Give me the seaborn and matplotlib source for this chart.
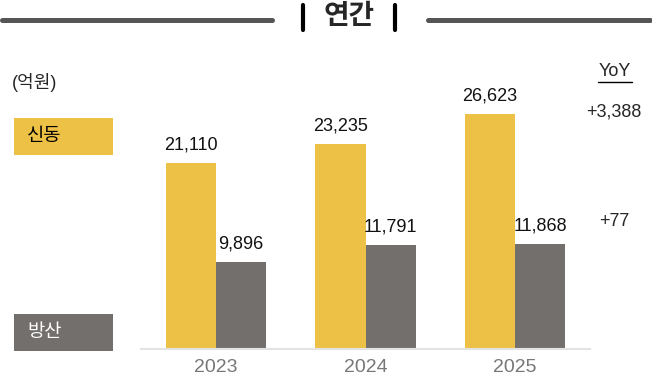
import pandas as pd
import seaborn as sns
import matplotlib.pyplot as plt
from matplotlib.patches import Rectangle
from matplotlib.lines import Line2D

# data (억원)
years = ['2023', '2024', '2025']
segments = ['신동', '방산']
sindong = [21110, 23235, 26623]
bangsan = [9896, 11791, 11868]
yoy = ['+3,388', '+77']

colors = {'신동': '#EDC145', '방산': '#736F6D'}

df = pd.DataFrame({
    'year': years * 2,
    'segment': ['신동'] * 3 + ['방산'] * 3,
    'value': sindong + bangsan,
})

sns.set_style('white')
plt.rcParams['font.family'] = ['Liberation Sans', 'Noto Sans CJK KR', 'DejaVu Sans']

W, H = 652, 384
fig = plt.figure(figsize=(W / 100, H / 100), dpi=100)

# axes placed in pixel terms: left 141, right 590, bottom 349, top 60
ax = fig.add_axes([141 / W, 1 - 349 / H, (590 - 141) / W, (349 - 60) / H])
sns.barplot(data=df, x='year', y='value', hue='segment', palette=colors,
            width=0.67, linewidth=0, saturation=1, ax=ax, legend=False)
ax.set_xlim(-0.5, 2.5)
ax.set_ylim(0, 32800)
ax.set_xlabel('')
ax.set_ylabel('')
ax.set_yticks([])
ax.tick_params(axis='x', length=0, labelsize=14, labelcolor='#777777', pad=7)
for s in ['left', 'right', 'top']:
    ax.spines[s].set_visible(False)
ax.spines['bottom'].set_color('#e3e3e3')
ax.spines['bottom'].set_linewidth(1.5)

for cont in ax.containers:
    ax.bar_label(cont, labels=[f'{v:,.0f}' for v in cont.datavalues],
                 padding=7, fontsize=13, color='#111111')

# header: 연간 with rules on both sides
fig.add_artist(Line2D([2 / W, 272 / W], [1 - 19.5 / H] * 2, color='#555555', lw=3.6))
fig.add_artist(Line2D([428 / W, 650 / W], [1 - 19.5 / H] * 2, color='#555555', lw=3.6))
for xp in [303, 395]:
    fig.add_artist(Line2D([xp / W] * 2, [1 - 5 / H, 1 - 30 / H], color='black', lw=3))
fig.text(349 / W, 1 - 16 / H, '연간', fontsize=20, fontweight='bold', ha='center', va='center',
         family=['Noto Sans CJK KR'])

# unit and legend boxes
fig.text(12 / W, 1 - 82 / H, '(억원)', fontsize=13, ha='left', va='center')
for name, y0, y1, tc in [('신동', 118, 155, 'black'), ('방산', 314, 351, 'white')]:
    fig.add_artist(Rectangle((14 / W, 1 - y1 / H), 99 / W, (y1 - y0) / H,
                             transform=fig.transFigure, color=colors[name], lw=0))
    fig.text(27 / W, 1 - (y0 + y1) / 2 / H, name, fontsize=13.5, color=tc,
             ha='left', va='center')

# YoY column
fig.text(615 / W, 1 - 71 / H, 'YoY', fontsize=13, ha='center', va='center')
fig.add_artist(Line2D([598 / W, 632 / W], [1 - 82 / H] * 2, color='black', lw=1))
fig.text(614 / W, 1 - 112 / H, yoy[0], fontsize=13, ha='center', va='center')
fig.text(614 / W, 1 - 222 / H, yoy[1], fontsize=13, ha='center', va='center')

fig.savefig('out.png', dpi=100, facecolor='white')
